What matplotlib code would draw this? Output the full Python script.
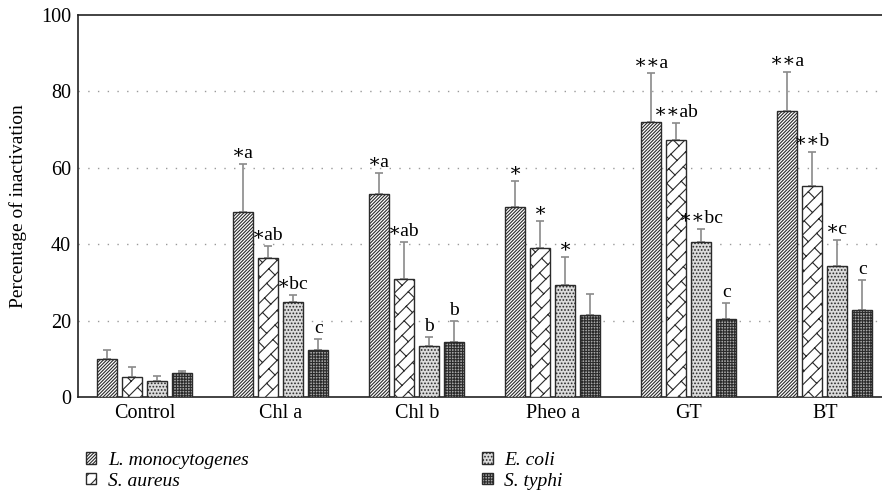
import warnings
import matplotlib.pyplot as plt
import numpy as np
from matplotlib import hatch as mhatch
from matplotlib.path import Path
from matplotlib.patches import Patch

warnings.filterwarnings('ignore')
plt.rcParams['font.family'] = ['Liberation Serif', 'DejaVu Serif']
plt.rcParams['hatch.linewidth'] = 0.8


class BrickHatch(mhatch.HatchPatternBase):
    """Diagonal brick pattern, used with the hatch letter 'b'."""

    def __init__(self, hatch, density):
        self.segs = []
        if 'b' in hatch:
            n, m = 8, 6
            # long edges: lines y - x = c
            for k in range(-n, n + 1):
                c = k / n
                self.segs.append(((0.0, c), (1.0, 1.0 + c)))
            # short edges between neighbouring lines, staggered by half a brick
            for k in range(-n, n):
                c = k / n
                for j in range(-m, 2 * m + 1):
                    t = j / m + (k % 2) * 0.5 / m
                    x0, y0 = t - c / 2, t + c / 2
                    self.segs.append(((x0, y0), (x0 - 0.5 / n, y0 + 0.5 / n)))
        self.num_vertices = 2 * len(self.segs)

    def set_vertices_and_codes(self, vertices, codes):
        for i, (a, b) in enumerate(self.segs):
            vertices[2 * i] = a
            vertices[2 * i + 1] = b
            codes[2 * i] = Path.MOVETO
            codes[2 * i + 1] = Path.LINETO


mhatch._hatch_types.append(BrickHatch)

groups = ['Control', 'Chl a', 'Chl b', 'Pheo a', 'GT', 'BT']
species = ['L. monocytogenes', 'S. aureus', 'E. coli', 'S. typhi']

# bar heights (mean) and error bar tops
l_mono = [9.9, 48.5, 53.1, 49.7, 72.1, 74.9]
l_mono_top = [12.3, 60.9, 58.6, 56.6, 84.7, 85.2]
s_aureus = [5.2, 36.5, 30.9, 38.9, 67.4, 55.2]
s_aureus_top = [7.8, 39.6, 40.7, 46.1, 71.7, 64.2]
e_coli = [4.1, 24.9, 13.4, 29.3, 40.5, 34.4]
e_coli_top = [5.5, 26.7, 15.7, 36.6, 43.9, 41.1]
s_typhi = [6.2, 12.3, 14.4, 21.4, 20.4, 22.9]
s_typhi_top = [6.9, 15.1, 19.9, 27.0, 24.6, 30.7]

labels_l = ['', '\u2217a', '\u2217a', '\u2217', '\u2217\u2217a', '\u2217\u2217a']
labels_sa = ['', '\u2217ab', '\u2217ab', '\u2217', '\u2217\u2217ab', '\u2217\u2217b']
labels_ec = ['', '\u2217bc', 'b', '\u2217', '\u2217\u2217bc', '\u2217c']
labels_st = ['', 'c', 'b', '', 'c', 'c']

series = [
    (l_mono, l_mono_top, labels_l, 'white', '//////////'),
    (s_aureus, s_aureus_top, labels_sa, 'white', 'b'),
    (e_coli, e_coli_top, labels_ec, '#dcdcdc', '.....'),
    (s_typhi, s_typhi_top, labels_st, '#a8a8a8', '++++++'),
]

fig = plt.figure(figsize=(8.82, 4.94), dpi=100)
ax = fig.add_axes([78/882, 1-397/494, 804/882, 382/494])

x = np.arange(len(groups))
width = 0.147
step = 0.184
handles = []
for i, (vals, tops, labs, fc, hatch) in enumerate(series):
    pos = x + (i - 1.5) * step
    vals = np.array(vals)
    err = np.array(tops) - vals
    ax.bar(pos, vals, width, color=fc, hatch=hatch, edgecolor='#2b2b2b',
           linewidth=1.0, zorder=3)
    ax.errorbar(pos, vals, yerr=[np.zeros_like(err), err], fmt='none',
                ecolor='#8a8a8a', elinewidth=1.2, capsize=3, capthick=1.2, zorder=2)
    for p, t, lab in zip(pos, tops, labs):
        if lab:
            ax.text(p, t + 0.5, lab, ha='center', va='bottom', fontsize=14)
    handles.append(Patch(facecolor=fc, hatch=hatch, edgecolor='#2b2b2b', label=species[i]))

ax.set_xlim(-0.49, 5.42)
ax.set_ylim(0, 100)
ax.set_yticks([0, 20, 40, 60, 80, 100])
ax.set_xticks(x)
ax.set_xticklabels(groups)
ax.tick_params(length=0, labelsize=14.5, pad=5)
ax.set_ylabel('Percentage of inactivation', fontsize=14, labelpad=10)
for yv in [20, 40, 60, 80]:
    ax.axhline(yv, color='#9a9a9a', linestyle=(0, (1, 6)), linewidth=1.0, zorder=1)
ax.spines['right'].set_visible(False)
for s in ['top', 'left', 'bottom']:
    ax.spines[s].set_linewidth(1.2)
    ax.spines[s].set_color('#222222')

leg = fig.legend(handles=handles, ncol=2, loc='upper left',
                 bbox_to_anchor=(72/882, 1-438/494), frameon=False,
                 prop={'style': 'italic', 'size': 14},
                 handlelength=0.55, handleheight=0.55, handletextpad=0.6,
                 columnspacing=12.0, labelspacing=0.2, borderpad=0.2)

fig.savefig('out.png', dpi=100)
